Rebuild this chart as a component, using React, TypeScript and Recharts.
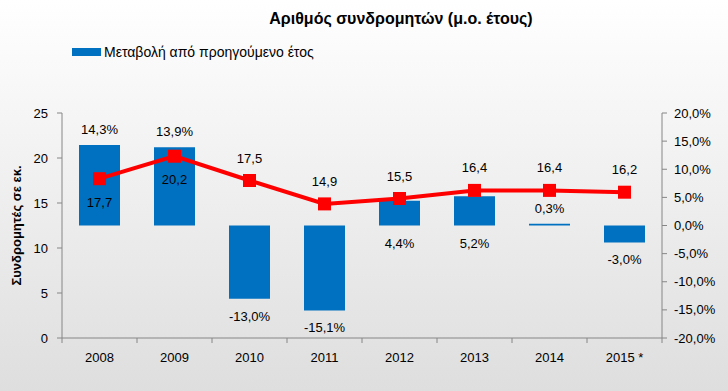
import React from 'react';
import {
  ComposedChart,
  Bar,
  Line,
  XAxis,
  YAxis,
  LabelList,
} from 'recharts';

const years = ['2008', '2009', '2010', '2011', '2012', '2013', '2014', '2015 *'];
const subscribers = [17.7, 20.2, 17.5, 14.9, 15.5, 16.4, 16.4, 16.2];
const changePct = [14.3, 13.9, -13.0, -15.1, 4.4, 5.2, 0.3, -3.0];
const leftTicks = [0, 5, 10, 15, 20, 25];
const rightTicks = [-20, -15, -10, -5, 0, 5, 10, 15, 20];

// where each data label sits (Excel placed them by hand)
const barLabelSide = ['top', 'top', 'bottom', 'bottom', 'bottom', 'bottom', 'top', 'bottom'];
const lineLabelSide = ['below', 'below', 'above', 'above', 'above', 'above', 'above', 'above'];

const data = years.map((year, i) => ({
  year,
  subscribers: subscribers[i],
  change: changePct[i],
}));

const FONT = '"Liberation Sans", Arial, sans-serif';
const AXIS = '#868686';
const BLUE = '#0070C0';
const RED = '#FF0000';

const W = 728;
const H = 391;
const BAND = 600 / years.length;

const fmt1 = (v: number) => v.toFixed(1).replace('.', ',');

const XTick = (props: any) => {
  const { x, y, payload, index } = props;
  const last = index === years.length - 1;
  return (
    <g>
      <line x1={x - BAND / 2} x2={x - BAND / 2} y1={y - 8} y2={y - 3} stroke={AXIS} />
      {last && <line x1={x + BAND / 2} x2={x + BAND / 2} y1={y - 8} y2={y - 3} stroke={AXIS} />}
      <text x={x} y={y + 16} textAnchor="middle" fontSize={13} fontFamily={FONT} fill="#000">
        {payload.value}
      </text>
    </g>
  );
};

const SquareDot = (props: any) => {
  const { cx, cy } = props;
  if (cx == null || cy == null) return null;
  return <rect x={cx - 6.5} y={cy - 6.5} width={13} height={13} fill={RED} />;
};

const BarLabel = (props: any) => {
  const { x, y, width, height, value, index } = props;
  const top = Math.min(y, y + height);
  const bottom = Math.max(y, y + height);
  const ty = barLabelSide[index] === 'top' ? top - 11 : bottom + 22;
  return (
    <text x={x + width / 2} y={ty} textAnchor="middle" fontSize={13} fontFamily={FONT} fill="#000">
      {fmt1(value)}%
    </text>
  );
};

const LineLabel = (props: any) => {
  const { x, y, value, index } = props;
  const ty = lineLabelSide[index] === 'below' ? y + 28 : y - 18;
  return (
    <text x={x} y={ty} textAnchor="middle" fontSize={13} fontFamily={FONT} fill="#000">
      {fmt1(value)}
    </text>
  );
};

export default function App() {
  return (
    <div
      style={{
        position: 'absolute',
        left: 0,
        top: 0,
        width: W,
        height: H,
        background: 'linear-gradient(#ffffff, #dedede)',
        fontFamily: FONT,
      }}
    >
      <div
        style={{
          position: 'absolute',
          top: 10,
          left: 0,
          width: 802,
          textAlign: 'center',
          fontSize: 16,
          fontWeight: 'bold',
          color: '#000',
        }}
      >
        Αριθμός συνδρομητών (μ.ο. έτους)
      </div>
      <div
        style={{
          position: 'absolute',
          top: 44,
          left: 72,
          display: 'flex',
          alignItems: 'center',
          fontSize: 14,
          color: '#000',
        }}
      >
        <span style={{ display: 'inline-block', width: 29, height: 8, background: BLUE, marginRight: 3 }} />
        Μεταβολή από προηγούμενο έτος
      </div>
      <ComposedChart
        width={W}
        height={H}
        data={data}
        margin={{ top: 113, right: 6, bottom: 23, left: 12 }}
        style={{ position: 'absolute', left: 0, top: 0 }}
      >
        <XAxis
          dataKey="year"
          height={30}
          stroke={AXIS}
          tickLine={false}
          tick={<XTick />}
          interval={0}
        />
        <YAxis
          yAxisId="left"
          width={50}
          domain={[0, 25]}
          ticks={leftTicks}
          stroke={AXIS}
          tickSize={5}
          tickMargin={9}
          tick={{ fill: '#000', fontSize: 13, fontFamily: FONT }}
          label={{
            content: (p: any) => {
              const vb = p.viewBox;
              const cx = vb.x + 4;
              const cy = vb.y + vb.height / 2;
              return (
                <text
                  x={cx}
                  y={cy}
                  transform={`rotate(-90 ${cx} ${cy})`}
                  textAnchor="middle"
                  dominantBaseline="central"
                  fontSize={13}
                  fontWeight="bold"
                  fontFamily={FONT}
                  fill="#000"
                >
                  Συνδρομητές σε εκ.
                </text>
              );
            },
          }}
        />
        <YAxis
          yAxisId="right"
          orientation="right"
          width={60}
          domain={[-20, 20]}
          ticks={rightTicks}
          stroke={AXIS}
          tickSize={5}
          tickMargin={7}
          tickFormatter={(v: number) => `${fmt1(v)}%`}
          tick={{ fill: '#000', fontSize: 13, fontFamily: FONT }}
        />
        <Bar yAxisId="right" dataKey="change" fill={BLUE} barSize={41} isAnimationActive={false}>
          <LabelList dataKey="change" content={<BarLabel />} />
        </Bar>
        <Line
          yAxisId="left"
          dataKey="subscribers"
          stroke={RED}
          strokeWidth={4}
          dot={<SquareDot />}
          activeDot={false}
          isAnimationActive={false}
        >
          <LabelList dataKey="subscribers" content={<LineLabel />} />
        </Line>
      </ComposedChart>
    </div>
  );
}
